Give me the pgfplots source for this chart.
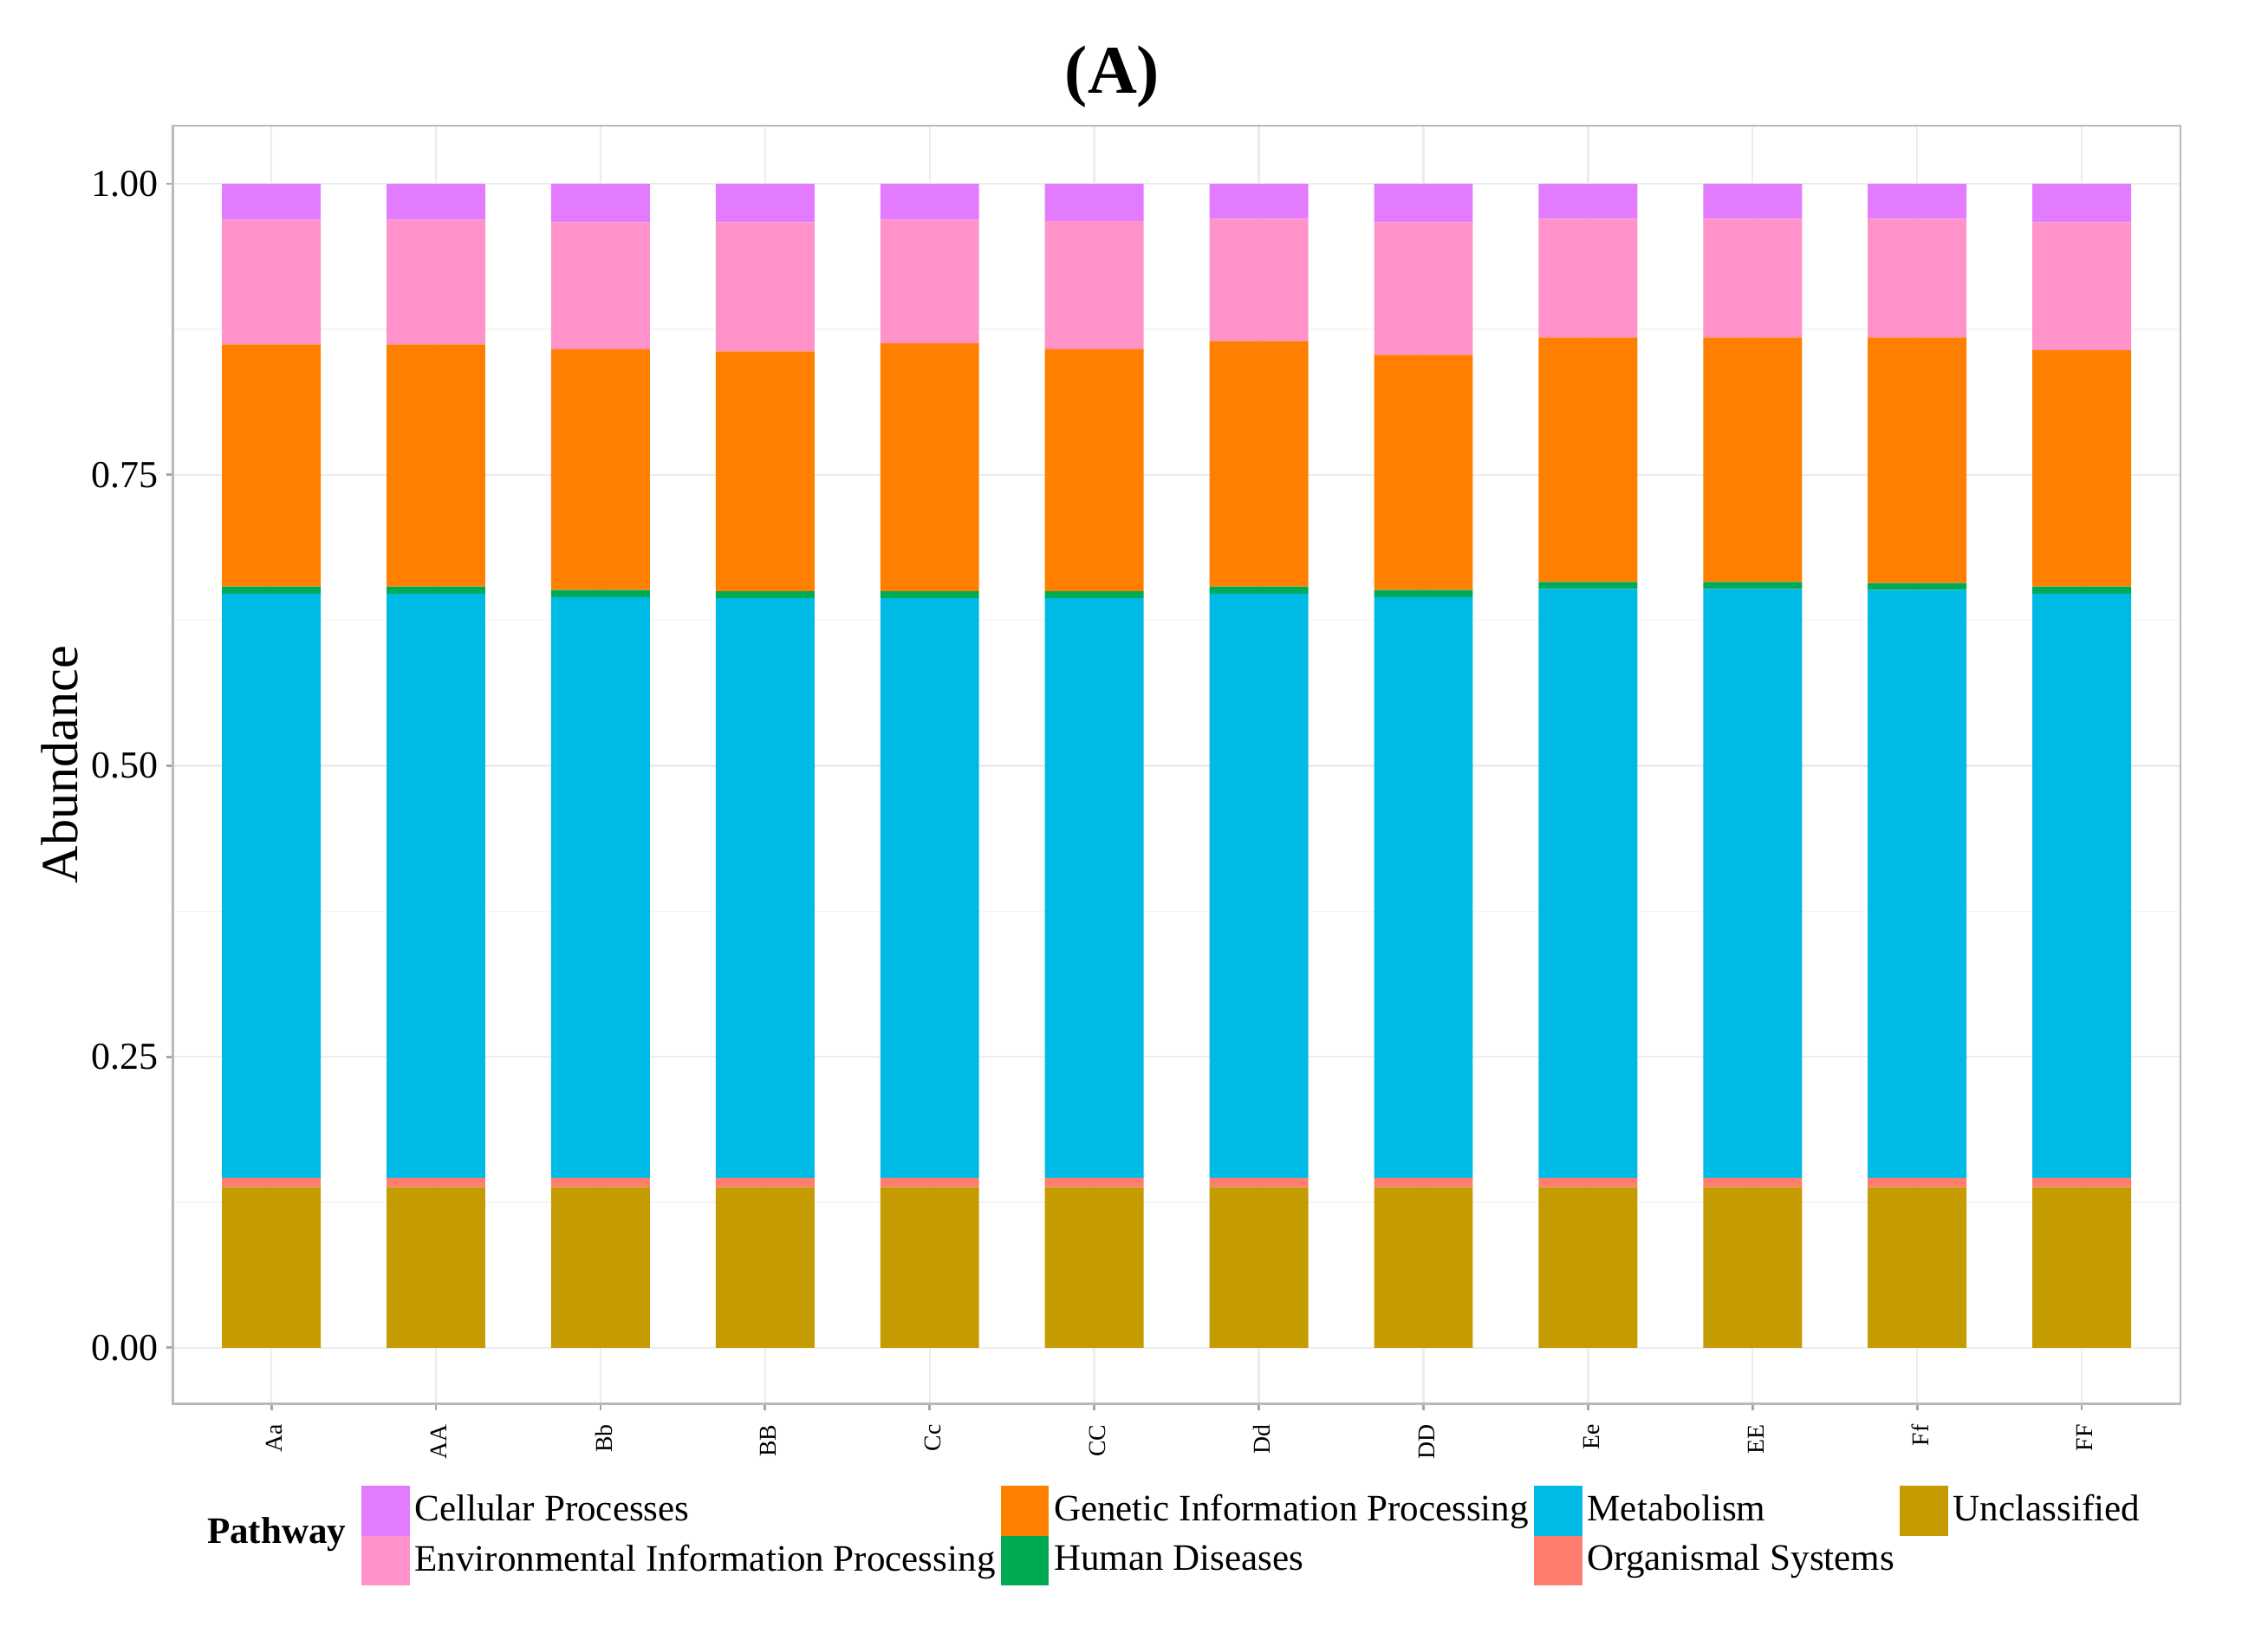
\documentclass[border=0pt]{standalone}
\usepackage{pgfplots}
\usepackage{pgfplotstable}
\pgfplotsset{compat=1.18}
\usepackage{fontspec}
\setmainfont{Liberation Serif}

\definecolor{cel}{HTML}{E37BFF}
\definecolor{env}{HTML}{FF92C8}
\definecolor{gen}{HTML}{FF8000}
\definecolor{hum}{HTML}{00AA55}
\definecolor{met}{HTML}{00BAE6}
\definecolor{org}{HTML}{FF7D6E}
\definecolor{unc}{HTML}{C49B00}

% x U=Unclassified O=Organismal M=Metabolism H=Human G=Genetic E=Environmental C=Cellular
\pgfplotstableread{
x  U     O     M     H     G     E     C
1  0.138 0.008 0.502 0.006 0.208 0.107 0.031
2  0.138 0.008 0.502 0.006 0.208 0.107 0.031
3  0.138 0.008 0.499 0.006 0.207 0.109 0.033
4  0.138 0.008 0.498 0.006 0.206 0.111 0.033
5  0.138 0.008 0.498 0.006 0.213 0.106 0.031
6  0.138 0.008 0.498 0.006 0.208 0.110 0.032
7  0.138 0.008 0.502 0.006 0.211 0.105 0.030
8  0.138 0.008 0.499 0.006 0.202 0.114 0.033
9  0.138 0.008 0.506 0.006 0.210 0.102 0.030
10 0.138 0.008 0.506 0.006 0.210 0.102 0.030
11 0.138 0.008 0.505 0.006 0.211 0.102 0.030
12 0.138 0.008 0.502 0.006 0.203 0.110 0.033
}\pathway

\begin{document}
\begin{tikzpicture}
\path[use as bounding box] (-43pt,-58.7pt) rectangle (522pt,349.7pt);
\begin{axis}[
    scale only axis,
    width=500.2pt, height=318.4pt,
    ybar stacked,
    bar width=0.6,
    xmin=0.4, xmax=12.6,
    ymin=-0.0483, ymax=1.05,
    xtick={1,...,12},
    xticklabels={Aa,AA,Bb,BB,Cc,CC,Dd,DD,Ee,EE,Ff,FF},
    ytick={0,0.25,0.5,0.75,1},
    yticklabels={0.00,0.25,0.50,0.75,1.00},
    minor ytick={0.125,0.375,0.625,0.875},
    grid=both,
    major grid style={color=gray!15, line width=0.5pt},
    minor grid style={color=gray!8, line width=0.3pt},
    axis line style={gray!55, line width=0.6pt},
    tick style={gray!70, line width=0.6pt},
    tick align=outside,
    major tick length=1.6pt, minor tick length=0pt,
    xtick pos=bottom, ytick pos=left,
    x tick label style={rotate=90, anchor=east, font=\fontsize{6}{7}\selectfont, yshift=-0.8pt},
    y tick label style={font=\fontsize{9.5}{11}\selectfont, xshift=1.5pt},
    ylabel={Abundance},
    ylabel style={font=\fontsize{13}{15}\selectfont, at={(-0.0561,0.5)}, anchor=center},
    title={(A)},
    title style={font=\bfseries\fontsize{17}{20}\selectfont, at={(0.468,1.0193)}, anchor=center},
    legend columns=4,
    legend cell align=left,
    legend style={draw=none, at={(0.0936,-0.0634)}, anchor=north west,
        font=\fontsize{9.3}{11}\selectfont, inner sep=0pt, row sep=0pt,
        column sep=1pt, nodes={inner sep=0.3pt}},
    legend image code/.code={\fill[#1] (0pt,-6.2pt) rectangle (12pt,6.2pt);},
    clip=false,
]
\addplot[fill=unc, draw=none, forget plot] table[x=x, y=U] {\pathway};
\addplot[fill=org, draw=none, forget plot] table[x=x, y=O] {\pathway};
\addplot[fill=met, draw=none, forget plot] table[x=x, y=M] {\pathway};
\addplot[fill=hum, draw=none, forget plot] table[x=x, y=H] {\pathway};
\addplot[fill=gen, draw=none, forget plot] table[x=x, y=G] {\pathway};
\addplot[fill=env, draw=none, forget plot] table[x=x, y=E] {\pathway};
\addplot[fill=cel, draw=none, forget plot] table[x=x, y=C] {\pathway};

\addlegendimage{fill=cel, draw=none}
\addlegendentry{Cellular Processes}
\addlegendimage{fill=gen, draw=none}
\addlegendentry{Genetic Information Processing}
\addlegendimage{fill=met, draw=none}
\addlegendentry{Metabolism}
\addlegendimage{fill=unc, draw=none}
\addlegendentry{Unclassified}
\addlegendimage{fill=env, draw=none}
\addlegendentry{Environmental Information Processing}
\addlegendimage{fill=hum, draw=none}
\addlegendentry{Human Diseases}
\addlegendimage{fill=org, draw=none}
\addlegendentry{Organismal Systems}

\node[font=\bfseries\fontsize{9.3}{11}\selectfont] at (rel axis cs:0.0518,-0.1018) {Pathway};
\end{axis}
\end{tikzpicture}
\end{document}
